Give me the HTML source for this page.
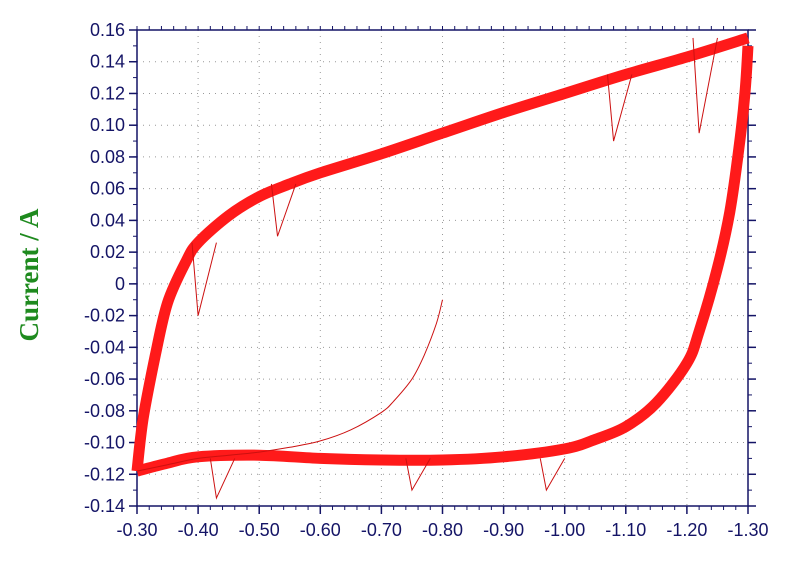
<!DOCTYPE html>
<html><head><meta charset="utf-8"><style>
body{margin:0;background:#fff;}
svg{display:block;}
.tk{font-family:"Liberation Sans",sans-serif;font-size:18px;fill:#141466;}
</style></head><body>
<svg id="chart" width="789" height="567">
<text transform="translate(38,275) rotate(-90)" text-anchor="middle" font-family="Liberation Serif,serif" font-weight="bold" font-size="27" fill="#1e8a1e">Current / A</text>
<g id="grid"></g><g id="axes"></g><g id="series"></g>
</svg>
<script>
const xTicks=[-0.30,-0.40,-0.50,-0.60,-0.70,-0.80,-0.90,-1.00,-1.10,-1.20,-1.30];
const yTicks=[0.16,0.14,0.12,0.10,0.08,0.06,0.04,0.02,0,-0.02,-0.04,-0.06,-0.08,-0.10,-0.12,-0.14];
const upperX=[-0.30,-0.31,-0.33,-0.35,-0.38,-0.40,-0.45,-0.50,-0.55,-0.60,-0.70,-0.80,-0.90,-1.00,-1.10,-1.20,-1.30];
const upperY=[-0.118,-0.085,-0.045,-0.012,0.014,0.026,0.043,0.055,0.063,0.070,0.082,0.095,0.108,0.120,0.132,0.143,0.155];
const lowerX=[-1.30,-1.295,-1.285,-1.27,-1.25,-1.22,-1.20,-1.15,-1.10,-1.05,-1.00,-0.90,-0.80,-0.70,-0.60,-0.50,-0.40,-0.35,-0.30];
const lowerY=[0.150,0.12,0.085,0.045,0.01,-0.03,-0.05,-0.075,-0.09,-0.098,-0.104,-0.109,-0.111,-0.111,-0.110,-0.108,-0.109,-0.113,-0.118];
const initX=[-0.80,-0.79,-0.77,-0.75,-0.72,-0.70,-0.65,-0.60,-0.55,-0.50,-0.45,-0.40,-0.35,-0.30];
const initY=[-0.01,-0.025,-0.045,-0.06,-0.074,-0.081,-0.092,-0.099,-0.103,-0.106,-0.108,-0.11,-0.114,-0.118];
const spikeX=[-0.40,-0.53,-1.08,-1.22,-0.75,-0.97,-0.43];
const spikeY=[-0.02,0.03,0.09,0.095,-0.13,-0.13,-0.135];
const L=137,R=748,T=30,B=506;
const sx=v=>L+(v-(-0.30))/(-1.0)*(R-L);
const sy=v=>T+(0.16-v)/0.30*(B-T);
const NS='http://www.w3.org/2000/svg';
function mk(p,t,a){const e=document.createElementNS(NS,t);for(const k in a)e.setAttribute(k,a[k]);p.appendChild(e);return e;}
const grid=document.getElementById('grid'),axes=document.getElementById('axes'),ser=document.getElementById('series');
xTicks.forEach((v,i)=>{if(i>0&&i<xTicks.length-1){const g=mk(grid,'line',{x1:sx(v),x2:sx(v),y1:T,y2:B,stroke:'#999','stroke-dasharray':'1 5'});

}
const t=mk(axes,'text',{x:sx(v),y:B+30,'text-anchor':'middle',class:'tk'});t.textContent=v.toFixed(2);


mk(axes,'line',{x1:sx(v),x2:sx(v),y1:B,y2:B+8,stroke:'#141466','stroke-width':1.5});});
for(let i=0;i<50;i++){const x=L+i*(R-L)/50;mk(axes,'line',{x1:x,x2:x,y1:B,y2:B+4,stroke:'#141466'});mk(axes,'line',{x1:x,x2:x,y1:T,y2:T-4,stroke:'#141466'});}
yTicks.forEach((v,i)=>{if(i>0&&i<yTicks.length-1){const g=mk(grid,'line',{x1:L,x2:R,y1:sy(v),y2:sy(v),stroke:'#999','stroke-dasharray':'1 5'});

}
const t=mk(axes,'text',{x:L-12,y:sy(v)+6,'text-anchor':'end',class:'tk'});t.textContent=v===0?'0':v.toFixed(2);


mk(axes,'line',{x1:L-8,x2:L,y1:sy(v),y2:sy(v),stroke:'#141466','stroke-width':1.5});
mk(axes,'line',{x1:R,x2:R+8,y1:sy(v),y2:sy(v),stroke:'#141466','stroke-width':1.5});});
for(let i=0;i<30;i++){const y=T+i*(B-T)/30;mk(axes,'line',{x1:L-4,x2:L,y1:y,y2:y,stroke:'#141466'});mk(axes,'line',{x1:R,x2:R+4,y1:y,y2:y,stroke:'#141466'});}
const fr=mk(axes,'rect',{x:L,y:T,width:R-L,height:B-T,fill:'none',stroke:'#141466','stroke-width':1.5});


function path(xs,ys){const p=xs.map((v,i)=>[sx(v),sy(ys[i])]);let d='M'+p[0][0].toFixed(1)+','+p[0][1].toFixed(1);
for(let i=0;i<p.length-1;i++){const p0=p[i-1]||p[i],p1=p[i],p2=p[i+1],p3=p[i+2]||p2;
const c1=[p1[0]+(p2[0]-p0[0])/6,p1[1]+(p2[1]-p0[1])/6],c2=[p2[0]-(p3[0]-p1[0])/6,p2[1]-(p3[1]-p1[1])/6];
d+=` C${c1[0].toFixed(1)},${c1[1].toFixed(1)} ${c2[0].toFixed(1)},${c2[1].toFixed(1)} ${p2[0].toFixed(1)},${p2[1].toFixed(1)}`;}return d;}
const up=mk(ser,'path',{d:path(upperX,upperY),fill:'none',stroke:'#ff1a1a','stroke-width':11,'stroke-linejoin':'round'});


const lo=mk(ser,'path',{d:path(lowerX,lowerY),fill:'none',stroke:'#ff1a1a','stroke-width':11,'stroke-linejoin':'round'});


const ini=mk(ser,'path',{d:path(initX,initY),fill:'none',stroke:'#cc1010','stroke-width':1});


spikeX.forEach((v,i)=>{const base=spikeY[i]<-0.1?-0.11:(upperY[upperX.findIndex(u=>u<=v)]||0.1);
const s=mk(ser,'path',{d:`M${sx(v+0.01)},${sy(base)} L${sx(v)},${sy(spikeY[i])} L${sx(v-0.03)},${sy(base)}`,fill:'none',stroke:'#cc1010','stroke-width':1});

});
</script>
</body></html>
